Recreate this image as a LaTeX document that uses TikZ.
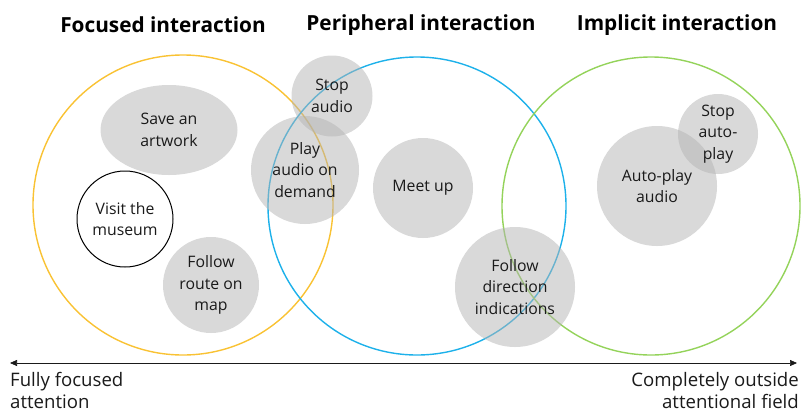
\documentclass[tikz,border=0pt]{standalone}
\usepackage{fontspec}
\setmainfont{Open Sans}
\usetikzlibrary{shapes.geometric,arrows.meta}
\definecolor{cyel}{HTML}{F9C233}
\definecolor{cblu}{HTML}{1DB1EA}
\definecolor{cgrn}{HTML}{94D35A}
\definecolor{cgry}{HTML}{B3B3B3}
\definecolor{ctxt}{HTML}{1A1A1A}
\tikzset{
  zone/.style={circle, draw=#1, line width=1.4pt, inner sep=0pt, minimum size=298pt},
  act/.style={circle, fill=cgry, fill opacity=0.5, text opacity=1, inner sep=0pt, minimum size=#1, align=center, text=ctxt, font=\fontsize{15.8}{21.5}\selectfont},
  title/.style={font=\fontsize{20.8}{25}\selectfont\bfseries, text=black},
  endlabel/.style={font=\fontsize{18.6}{22}\selectfont, text=ctxt, inner sep=0pt}
}
\begin{document}
\begin{tikzpicture}[x=1pt,y=-1pt]
\useasboundingbox (0,0) rectangle (802,413);
% zones
\node[zone=cyel, minimum size=300pt] (foc) at (183,205) {};
\node[zone=cblu] (per) at (417,206) {};
\node[zone=cgrn] (imp) at (651,206) {};
% titles
\node[title] (tfoc) at (163,25) {Focused interaction};
\node[title] (tper) at (421,25) {Peripheral interaction};
\node[title] (timp) at (677,25) {Implicit interaction};
% activities
\node[ellipse, fill=cgry, fill opacity=0.5, text opacity=1, inner sep=0pt, minimum width=137pt, minimum height=90pt, align=center, text=ctxt, font=\fontsize{15.8}{21.5}\selectfont] (save) at (169,130) {Save an\\artwork};
\node[circle, draw=black, line width=1pt, fill=white, inner sep=0pt, minimum size=96pt, align=center, text=ctxt, font=\fontsize{15.8}{21.5}\selectfont] (visit) at (125,219) {Visit the\\museum};
\node[act=96pt] (route) at (211,285) {Follow\\route on\\map};
\node[act=81pt] (stop) at (332,96) {Stop\\audio};
\node[act=108pt] (play) at (305,170) {Play\\audio on\\demand};
\node[act=100pt] (meet) at (423,188) {Meet up};
\node[act=120pt] (dir) at (515,287) {Follow\\direction\\indications};
\node[act=120pt] (auto) at (657,186) {Auto-play\\audio};
\node[act=80pt] (stopa) at (718,134) {Stop\\auto-\\play};
% axis
\coordinate (al) at (10,363);
\coordinate (ar) at (797,363);
\draw[{Triangle[length=7pt,width=6pt]}-{Triangle[length=7pt,width=6pt]}, line width=0.7pt, draw=ctxt, fill=ctxt] (al) -- (ar);
\node[endlabel, anchor=north west, align=left] (lfull) at (10,372) {Fully focused\\attention};
\node[endlabel, anchor=north east, align=right] (lout) at (799,372) {Completely outside\\attentional field};
\end{tikzpicture}
\end{document}
